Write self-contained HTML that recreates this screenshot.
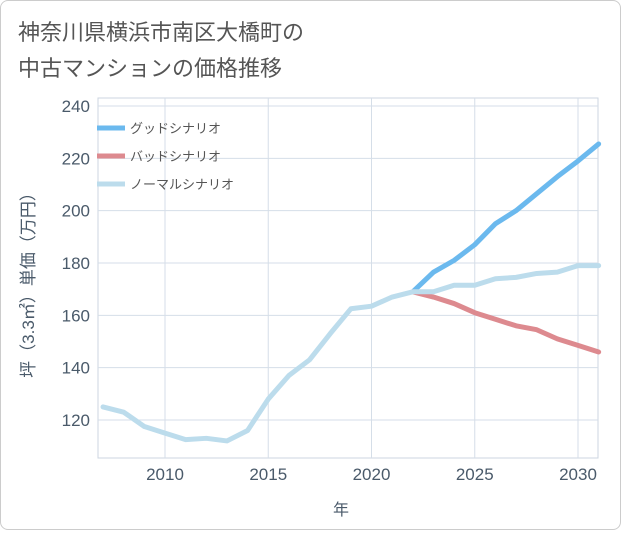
<!DOCTYPE html>
<html><head><meta charset="utf-8"><style>
body{margin:0;background:#fff;font-family:"Liberation Sans","Noto Sans CJK JP",sans-serif;}
#card{position:absolute;left:0;top:0;width:619px;height:528px;border:1px solid #ccc;border-radius:8px;background:#fff;}
</style></head><body>
<div id="card">
<svg id="chart" width="621" height="530">
<text x="17" y="39" font-size="22" fill="#555">神奈川県横浜市南区大橋町の</text>
<text x="17" y="75" font-size="22" fill="#555">中古マンションの価格推移</text>
<g id="grid"></g><g id="axes"></g><g id="series"></g><g id="legend"></g>
<text x="340" y="514" font-size="16" fill="#4a5a6a" text-anchor="middle">年</text>
<text transform="translate(33,280) rotate(-90)" font-size="17" fill="#4a5a6a" text-anchor="middle">坪（3.3㎡）単価（万円）</text>
</svg></div>
<script>
const years=[2007,2008,2009,2010,2011,2012,2013,2014,2015,2016,2017,2018,2019,2020,2021,2022,2023,2024,2025,2026,2027,2028,2029,2030,2031];
const normal=[125,123,117.5,115,112.5,113,112,116,128,137,143,153,162.5,163.5,167,169,169,171.5,171.5,174,174.5,176,176.5,179,179];
const goodYears=[2022,2023,2024,2025,2026,2027,2028,2029,2030,2031];
const good=[169,176.5,181,187,195,200,206.5,213,219,225.5];
const bad=[169,167,164.5,161,158.5,156,154.5,151,148.5,146];
const yTicks=[120,140,160,180,200,220,240];
const xTicks=[2010,2015,2020,2025,2030];
const legendLabels=["グッドシナリオ","バッドシナリオ","ノーマルシナリオ"];
const NS="http://www.w3.org/2000/svg";
const L=97,R=597,T=97,B=457;
const x=v=>164+(v-2010)*20.65;
const y=v=>419-(v-120)*(314/120);
function mk(tag,attrs,parent){const e=document.createElementNS(NS,tag);for(const k in attrs)e.setAttribute(k,attrs[k]);document.getElementById(parent).appendChild(e);return e;}
const bg=mk('rect',{x:L,y:T,width:R-L,height:B-T,fill:'#fff',stroke:'#ccd6e0'},'grid');


yTicks.forEach(t=>{
 const g=mk('line',{x1:L,x2:R,y1:y(t),y2:y(t),stroke:'#d5dee8'},'grid');
 
 
 const tx=mk('text',{x:L-8,y:y(t)+6,'font-size':17,fill:'#4a5a6a','text-anchor':'end'},'axes');tx.textContent=t;
 
 
});
xTicks.forEach(t=>{
 const g=mk('line',{x1:x(t),x2:x(t),y1:T,y2:B,stroke:'#d5dee8'},'grid');
 
 
 const tx=mk('text',{x:x(t),y:B+22,'font-size':17,fill:'#4a5a6a','text-anchor':'middle'},'axes');tx.textContent=t;
 
 
});
function line(xs,vs,color,name){
 const p=mk('polyline',{points:xs.map((yr,i)=>x(yr)+','+y(vs[i])).join(' '),fill:'none',stroke:color,'stroke-width':5,'stroke-linejoin':'round','stroke-linecap':'round'},'series');
 
 
}
line(goodYears,good,'#6bb9ee','good-scenario-line');
line(goodYears,bad,'#dd8a8f','bad-scenario-line');
line(years,normal,'#bcdcec','normal-scenario-line');
const cols=['#6bb9ee','#dd8a8f','#bcdcec'];
legendLabels.forEach((lb,i)=>{
 const yy=127+i*28;
 const s=mk('line',{x1:96,x2:124,y1:yy,y2:yy,stroke:cols[i],'stroke-width':5},'legend');
 
 
 const t=mk('text',{x:129,y:yy+5,'font-size':13,fill:'#555'},'legend');t.textContent=lb;
 
 
});
</script>
</body></html>
